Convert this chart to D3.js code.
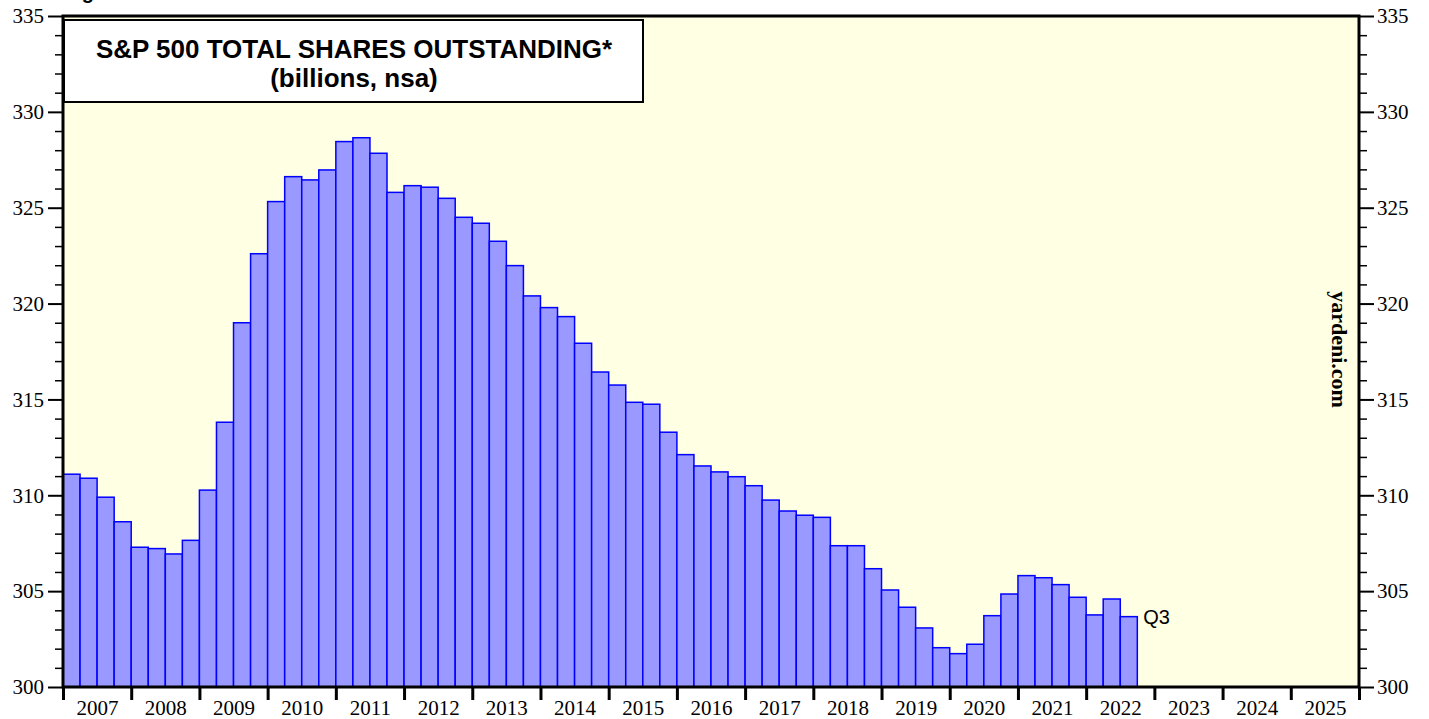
<!DOCTYPE html>
<html>
<head>
<meta charset="utf-8">
<script src="https://cdn.jsdelivr.net/npm/d3@7"></script>
<style>
  body { margin: 0; background: #ffffff; }
  svg { display: block; }
</style>
</head>
<body>
<div id="chart"></div>
<script>
// DATA: S&P 500 total shares outstanding, quarterly, billions (2007 Q1 .. 2022 Q3)
const startYear = 2007;
const shares = [
  311.10, 310.89, 309.90, 308.62,   // 2007
  307.29, 307.22, 306.94, 307.65,   // 2008
  310.27, 313.81, 319.00, 322.60,   // 2009
  325.32, 326.62, 326.45, 326.97,   // 2010
  328.45, 328.65, 327.84, 325.80,   // 2011
  326.15, 326.07, 325.49, 324.50,   // 2012
  324.19, 323.25, 321.98, 320.40,   // 2013
  319.79, 319.32, 317.93, 316.43,   // 2014
  315.75, 314.85, 314.75, 313.29,   // 2015
  312.12, 311.53, 311.22, 310.97,   // 2016
  310.50, 309.75, 309.18, 308.96,   // 2017
  308.85, 307.37, 307.37, 306.17,   // 2018
  305.06, 304.16, 303.08, 302.05,   // 2019
  301.74, 302.23, 303.72, 304.85,   // 2020
  305.81, 305.70, 305.34, 304.68,   // 2021
  303.76, 304.59, 303.67            // 2022
];
const yearLabels = ["2007","2008","2009","2010","2011","2012","2013","2014","2015","2016",
                    "2017","2018","2019","2020","2021","2022","2023","2024","2025"];
const yTicks = [300, 305, 310, 315, 320, 325, 330, 335];
const lastLabel = "Q3";

const width = 1429;
const height = 719;
const margin = { top: 16, right: 70, bottom: 32, left: 63 };
const plotW = width - margin.left - margin.right;
const plotH = height - margin.top - margin.bottom;

const svg = d3.select("#chart")
  .append("svg")
  .attr("width", width)
  .attr("height", height);

// heading cut off at the very top (as in the source image)
svg.append("text")
  .attr("x", 64)
  .attr("y", -1)
  .style("font-family", "'Liberation Sans', Arial, sans-serif")
  .style("font-weight", "bold")
  .style("font-size", "20px")
  .text("Figure 1.");

const g = svg.append("g")
  .attr("transform", `translate(${margin.left}, ${margin.top})`);

const xScale = d3.scaleLinear()
  .domain([startYear, startYear + yearLabels.length])
  .range([0, plotW]);

const yScale = d3.scaleLinear()
  .domain([300, 335])
  .range([plotH, 0]);

// plot background
g.append("rect")
  .attr("width", plotW)
  .attr("height", plotH)
  .attr("fill", "#ffffe3");

// bars
const qw = xScale(startYear + 0.25) - xScale(startYear);
g.selectAll("rect.bar")
  .data(shares)
  .enter()
  .append("rect")
  .attr("class", "bar")
  .attr("x", (d, i) => xScale(startYear + i / 4))
  .attr("y", d => yScale(d))
  .attr("width", qw)
  .attr("height", d => yScale(300) - yScale(d))
  .attr("fill", "#9999ff")
  .attr("stroke", "#0000ff")
  .attr("stroke-width", 1.5);

// Q3 label next to last bar
const lastIdx = shares.length - 1;
g.append("text")
  .attr("x", xScale(startYear + (lastIdx + 1) / 4) + 6)
  .attr("y", yScale(shares[lastIdx]) + 7)
  .style("font-family", "'Liberation Sans', Arial, sans-serif")
  .style("font-size", "20px")
  .text(lastLabel);

// y axes: minor + major ticks
const minorTicks = d3.range(300, 336, 1).filter(v => v % 5 !== 0);
const serif = "'Liberation Serif', 'Times New Roman', serif";

function styleAxis(sel) {
  sel.select(".domain").remove();
  sel.selectAll("text")
    .style("font-family", serif)
    .style("font-size", "21px")
    .attr("fill", "#000");
  sel.selectAll("line").attr("stroke", "#000");
}

g.append("g")
  .call(d3.axisLeft(yScale).tickValues(minorTicks).tickSize(8).tickFormat(""))
  .call(styleAxis)
  .selectAll("line").attr("stroke-width", 1.5);

g.append("g")
  .call(d3.axisLeft(yScale).tickValues(yTicks).tickSize(15).tickPadding(4).tickFormat(d3.format("d")))
  .call(styleAxis)
  .selectAll("line").attr("stroke-width", 2);

g.append("g")
  .attr("transform", `translate(${plotW}, 0)`)
  .call(d3.axisRight(yScale).tickValues(minorTicks).tickSize(8).tickFormat(""))
  .call(styleAxis)
  .selectAll("line").attr("stroke-width", 1.5);

g.append("g")
  .attr("transform", `translate(${plotW}, 0)`)
  .call(d3.axisRight(yScale).tickValues(yTicks).tickSize(15).tickPadding(3).tickFormat(d3.format("d")))
  .call(styleAxis)
  .selectAll("line").attr("stroke-width", 2);

// x axis: year boundary ticks + centered year labels
const yearBounds = yearLabels.map(y => +y).concat([startYear + yearLabels.length]);
g.append("g")
  .attr("transform", `translate(0, ${plotH})`)
  .call(d3.axisBottom(xScale).tickValues(yearBounds).tickSize(13).tickFormat(""))
  .call(styleAxis)
  .selectAll("line").attr("stroke-width", 3);

g.append("g")
  .attr("transform", `translate(0, ${plotH})`)
  .call(d3.axisBottom(xScale).tickValues(yearLabels.map(y => +y + 0.5)).tickSize(0).tickPadding(13)
    .tickFormat((d, i) => yearLabels[i]))
  .call(styleAxis);

// frame
g.append("rect")
  .attr("width", plotW)
  .attr("height", plotH)
  .attr("fill", "none")
  .attr("stroke", "#000")
  .attr("stroke-width", 3);

// title box
const box = g.append("g").attr("transform", "translate(1, 4)");
box.append("rect")
  .attr("width", 579)
  .attr("height", 82)
  .attr("fill", "#ffffff")
  .attr("stroke", "#000")
  .attr("stroke-width", 2);
box.append("text")
  .attr("x", 290)
  .attr("y", 38)
  .attr("text-anchor", "middle")
  .style("font-family", "'Liberation Sans', Arial, sans-serif")
  .style("font-weight", "bold")
  .style("font-size", "26px")
  .text("S&P 500 TOTAL SHARES OUTSTANDING*");
box.append("text")
  .attr("x", 290)
  .attr("y", 67)
  .attr("text-anchor", "middle")
  .style("font-family", "'Liberation Sans', Arial, sans-serif")
  .style("font-weight", "bold")
  .style("font-size", "26px")
  .text("(billions, nsa)");

// source
g.append("text")
  .attr("transform", `translate(${plotW - 27}, ${yScale(317.6)}) rotate(90)`)
  .attr("text-anchor", "middle")
  .style("font-family", serif)
  .style("font-weight", "bold")
  .style("font-size", "22px")
  .text("yardeni.com");
</script>
</body>
</html>
